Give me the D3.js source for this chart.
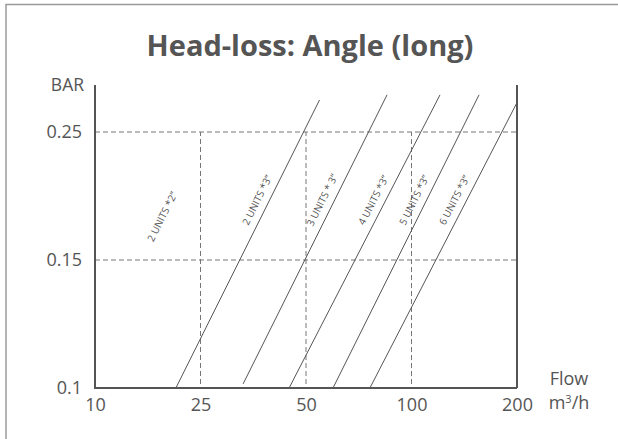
<!DOCTYPE html>
<html>
<head>
<meta charset="utf-8">
<script src="https://cdn.jsdelivr.net/npm/d3@7"></script>
<style>
  html, body { margin: 0; padding: 0; background: #fff; }
  svg { display: block; }
  text { font-family: "Open Sans", "DejaVu Sans", sans-serif; fill: #555; }
</style>
</head>
<body>
<div id="chart"></div>
<script>
// ---- data ----
const flowTicks = [10, 25, 50, 100, 200];
const barTicks = [0.1, 0.15, 0.25];
const flowGrid = [25, 50, 100];
const barGrid = [0.15, 0.25];
const seriesNames = ["2 UNITS *3”", "3 UNITS * 3”", "4 UNITS *3”", "5 UNITS *3”", "6 UNITS *3”"];
const flowStart = [21.5, 35.1, 46.0, 62.8, 80.3];
const barStart = [0.1, 0.1016, 0.1, 0.1, 0.1];
const flowEnd = [56.4, 88.4, 127, 164, 200];
const barEnd = [0.275, 0.279, 0.279, 0.279, 0.273];
const extraLabel = "2 UNITS *2”";
const extraLabelFlow = 19.5;
const extraLabelBar = 0.184;
const labelBar = 0.197;

// ---- layout ----
const W = 618, H = 439;
const mLeft = 95, mRight = 517, mBottom = 388, mTop = 85;

const svg = d3.select("#chart").append("svg").attr("width", W).attr("height", H);

// outer frame
svg.append("path")
  .attr("d", `M6,${H} L6,4.5 L${W},4.5`)
  .attr("fill", "none").attr("stroke", "#9a9a9a").attr("stroke-width", 1.5);

// title
svg.append("text")
  .attr("x", 310).attr("y", 56)
  .attr("text-anchor", "middle")
  .attr("font-size", 29).attr("font-weight", "bold")
  .style("fill", "#555")
  .text("Head-loss: Angle (long)");

// scales (evenly spaced ticks, piecewise linear between them)
const x = d3.scaleLinear()
  .domain(flowTicks)
  .range(flowTicks.map((d, i) => mLeft + i * (mRight - mLeft) / (flowTicks.length - 1)));
const yStep = 128;
const y = d3.scaleLinear()
  .domain(barTicks)
  .range(barTicks.map((d, i) => mBottom - i * yStep));

// dashed grid
const g = svg.append("g");
g.selectAll(".hgrid").data(barGrid).join("line")
  .attr("x1", mLeft).attr("x2", mRight)
  .attr("y1", d => y(d)).attr("y2", d => y(d))
  .attr("stroke", "#777").attr("stroke-width", 1).attr("stroke-dasharray", "5,3");
g.selectAll(".vgrid").data(flowGrid).join("line")
  .attr("x1", d => x(d)).attr("x2", d => x(d))
  .attr("y1", mBottom - 4).attr("y2", y(0.25))
  .attr("stroke", "#777").attr("stroke-width", 1).attr("stroke-dasharray", "5,3");

// right boundary at 200
svg.append("line")
  .attr("x1", x(200)).attr("x2", x(200)).attr("y1", mTop).attr("y2", mBottom)
  .attr("stroke", "#555").attr("stroke-width", 2);

// axes
const yAxis = d3.axisLeft(y).tickValues(barTicks).tickSize(0).tickPadding(13)
  .tickFormat(d3.format(""));
const yg = svg.append("g").attr("transform", `translate(${mLeft},0)`).call(yAxis);
yg.select(".domain").remove();
yg.selectAll("text").attr("font-size", 18).attr("font-family", null).style("fill", "#555");

const xAxis = d3.axisBottom(x).tickValues(flowTicks).tickSize(0).tickPadding(10)
  .tickFormat(d3.format("d"));
const xg = svg.append("g").attr("transform", `translate(0,${mBottom})`).call(xAxis);
xg.select(".domain").remove();
xg.selectAll("text").attr("font-size", 18).attr("font-family", null).style("fill", "#555");

svg.append("path")
  .attr("d", `M${mLeft},${mTop} L${mLeft},${mBottom} L${mRight},${mBottom}`)
  .attr("fill", "none").attr("stroke", "#555").attr("stroke-width", 2);

// axis titles
svg.append("text").attr("x", 84).attr("y", 91).attr("text-anchor", "end")
  .attr("font-size", 17.5).text("BAR");
svg.append("text").attr("x", 569).attr("y", 385).attr("text-anchor", "middle")
  .attr("font-size", 18).text("Flow");
const unit = svg.append("text").attr("x", 569).attr("y", 409).attr("text-anchor", "middle")
  .attr("font-size", 18);
unit.append("tspan").text("m");
unit.append("tspan").attr("dy", -6).attr("font-size", 11).text("3");
unit.append("tspan").attr("dy", 6).text("/h");

// series lines
const series = seriesNames.map((name, i) => ({
  name,
  pts: [[flowStart[i], barStart[i]], [flowEnd[i], barEnd[i]]]
}));
const line = d3.line().x(d => x(d[0])).y(d => y(d[1]));
svg.selectAll(".series").data(series).join("path")
  .attr("d", d => line(d.pts))
  .attr("fill", "none").attr("stroke", "#555").attr("stroke-width", 1);

// series labels
function angleOf(s) {
  const p0 = [x(s.pts[0][0]), y(s.pts[0][1])];
  const p1 = [x(s.pts[1][0]), y(s.pts[1][1])];
  return { p0, p1, ang: Math.atan2(p1[1] - p0[1], p1[0] - p0[0]) * 180 / Math.PI };
}
series.forEach(s => {
  const { p0, p1, ang } = angleOf(s);
  const ly = y(labelBar);
  const t = (ly - p0[1]) / (p1[1] - p0[1]);
  const lx = p0[0] + t * (p1[0] - p0[0]) - 13;
  svg.append("text")
    .attr("transform", `translate(${lx},${ly}) rotate(${ang})`)
    .attr("text-anchor", "middle").attr("dominant-baseline", "central")
    .attr("font-size", 10).text(s.name);
});
{
  const { ang } = angleOf(series[0]);
  svg.append("text")
    .attr("transform", `translate(${x(extraLabelFlow)},${y(extraLabelBar)}) rotate(${ang})`)
    .attr("text-anchor", "middle").attr("dominant-baseline", "central")
    .attr("font-size", 10).text(extraLabel);
}
</script>
</body>
</html>
